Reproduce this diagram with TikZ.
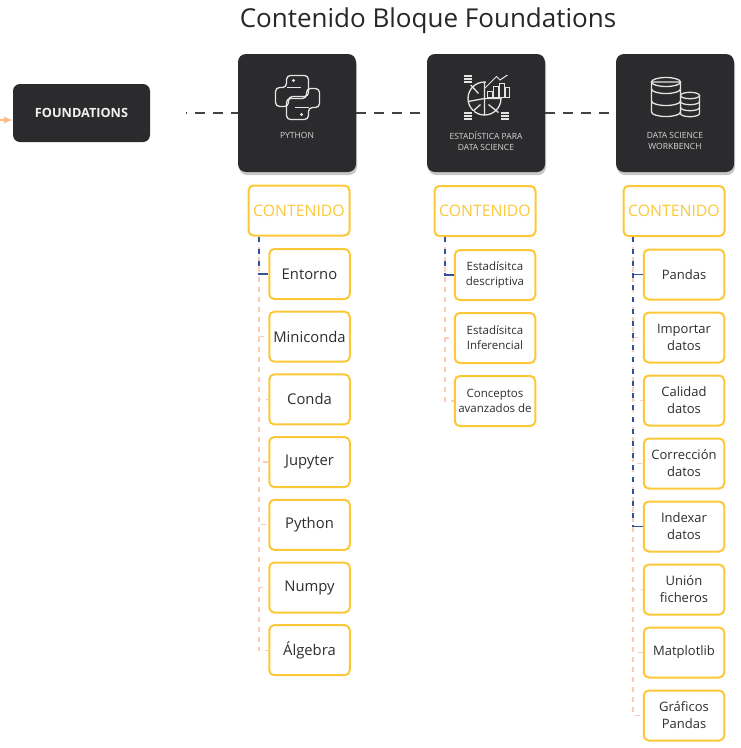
\documentclass[tikz,border=0pt]{standalone}
\usepackage{fontspec}
\setmainfont{Open Sans}
\usetikzlibrary{shadows}

\definecolor{boxdark}{HTML}{2B2B2D}
\definecolor{amber}{HTML}{FCC838}
\definecolor{peach}{HTML}{F9CDB8}
\definecolor{navy}{HTML}{34509C}
\definecolor{inktext}{HTML}{2E2E30}
\definecolor{softwhite}{HTML}{E4E4E4}

\tikzset{
  darkbox/.style={fill=boxdark, rounded corners=8pt, minimum width=118pt, minimum height=118pt,
    drop shadow={shadow xshift=1pt, shadow yshift=-3pt, opacity=.22, fill=black}},
  boxlabel/.style={text=softwhite!85!gray, align=center, font=\fontsize{8.5}{11.5}\selectfont},
  headbox/.style={draw=amber, line width=2pt, fill=white, rounded corners=5pt, minimum width=101pt,
    minimum height=50pt, text=amber, inner sep=0pt, font=\fontsize{15.8}{17}\selectfont},
  itembox/.style={draw=amber, line width=2pt, fill=white, rounded corners=5pt, minimum width=80.5pt,
    minimum height=50pt, text=inktext, align=center, inner sep=0pt, font=\fontsize{13}{17}\selectfont},
  smallitem/.style={itembox, font=\fontsize{11.5}{15}\selectfont},
  largeitem/.style={itembox, font=\fontsize{14.8}{17}\selectfont},
  darkdash/.style={draw=inktext!90!white, line width=1.8pt, dash pattern=on 10pt off 8pt},
  peachline/.style={draw=peach, line width=1.3pt, dash pattern=on 5pt off 5pt},
  navyline/.style={draw=navy, line width=1.3pt, dash pattern=on 5pt off 7pt},
  navystub/.style={draw=navy, line width=1.3pt},
  iconline/.style={draw=softwhite, line width=1.3pt}
}

\begin{document}
\begin{tikzpicture}[x=1pt, y=-1pt, node distance=63pt]
  \useasboundingbox (0,0) rectangle (741,748);

  % Nodes
  \node[text=black!85, font=\fontsize{26}{30}\selectfont] (title) at (428,21) {Contenido Bloque Foundations};
  \node[fill=boxdark, rounded corners=7pt, minimum width=137pt, minimum height=58pt, text=softwhite!50!white,
    font=\fontsize{12.7}{14}\selectfont\bfseries, inner sep=0pt] (foundations) at (81.5,113) {FOUNDATIONS};
  \node[darkbox] (python) at (297,113) {};
  \node[darkbox] (estadistica) at (486,113) {};
  \node[darkbox] (workbench) at (675,113) {};
  \node[boxlabel] (pythonlabel) at (297,135) {PYTHON};
  \node[boxlabel] (estadisticalabel) at (486,141) {ESTADÍSTICA PARA\\DATA SCIENCE};
  \node[boxlabel] (workbenchlabel) at (675,141) {DATA SCIENCE\\WORKBENCH};

  \node[headbox] (contenidoA) at (299,210.5) {CONTENIDO};
  \node[headbox] (contenidoB) at (485,211) {CONTENIDO};
  \node[headbox] (contenidoC) at (674,211) {CONTENIDO};

  % Python column
  \node[largeitem] (entorno) at (309.5,274) {Entorno};
  \node[largeitem, below of=entorno, node distance=62.7pt] (miniconda) {Miniconda};
  \node[largeitem, below of=miniconda, node distance=62.7pt] (conda) {Conda};
  \node[largeitem, below of=conda, node distance=62.7pt] (jupyter) {Jupyter};
  \node[largeitem, below of=jupyter, node distance=62.7pt] (pythonitem) {Python};
  \node[largeitem, below of=pythonitem, node distance=62.7pt] (numpy) {Numpy};
  \node[largeitem, below of=numpy, node distance=62.7pt] (algebra) {Álgebra};

  % Estadistica column
  \node[smallitem] (descriptiva) at (495,275) {Estadísitca\\descriptiva};
  \node[smallitem, below of=descriptiva] (inferencial) {Estadísitca\\Inferencial};
  \node[smallitem, below of=inferencial] (avanzados) {Conceptos\\avanzados de};

  % Workbench column
  \node[itembox] (pandas) at (684,274.5) {Pandas};
  \node[itembox, below of=pandas] (importar) {Importar\\datos};
  \node[itembox, below of=importar] (calidad) {Calidad\\datos};
  \node[itembox, below of=calidad] (correccion) {Corrección\\datos};
  \node[itembox, below of=correccion] (indexar) {Indexar\\datos};
  \node[itembox, below of=indexar] (union) {Unión\\ficheros};
  \node[itembox, below of=union] (matplotlib) {Matplotlib};
  \node[itembox, below of=matplotlib] (graficos) {Gráficos\\Pandas};

  % Python icon
  \begin{scope}[shift={(297.5,97.5)}]
    \foreach \turn in {0,180} {
      \draw[iconline, rotate=\turn, rounded corners=4pt] (-11,-10) -- (-11,-22) -- (11,-22) -- (11,-1)
        -- (-9,-1) -- (-9,9) -- (-22,9) -- (-22,-10) -- cycle;
      \draw[iconline, rotate=\turn] (-11,-10) -- (3,-10);
      \fill[softwhite, rotate=\turn] (-4,-17) circle (1.6);
    }
  \end{scope}

  % Estadistica icon
  \begin{scope}[shift={(484.5,98.5)}]
    \draw[iconline] (0,0) circle (16.5);
    \draw[iconline] (-16.5,3) -- (0,0) -- (16.5,0) (0,-16.5) -- (0,16.5) (-16,-16) -- (-6,-5) (-13,14) -- (-4,6) (14,14) -- (4,6);
    \fill[boxdark] (1,-24) rectangle (25,-1);
    \draw[softwhite, line width=.9pt] (3,-1) rectangle (7.5,-7) (9,-1) rectangle (13.5,-12) (15,-1) rectangle (19.5,-15) (21,-1) rectangle (25,-11);
    \draw[iconline, line width=1pt] (.5,-10.5) -- (12,-22) -- (15.5,-18.5) -- (23,-23.5);
    \foreach \px/\py in {-16.5/-19.5,-16.5/17.5,20.5/17.5} {
      \fill[boxdark] (\px-5.5,\py-5.5) rectangle (\px+5.5,\py+5.5);
      \draw[softwhite, line width=1.2pt] (\px-4,\py-3) -- (\px+4,\py-3) (\px-4,\py) -- (\px+4,\py) (\px-4,\py+3) -- (\px+4,\py+3);
    }
  \end{scope}

  % Workbench icon
  \begin{scope}[shift={(666,77)}]
    \draw[iconline] (24,18.5) ellipse (9.5 and 3.2);
    \draw[iconline] (14.5,18.5) -- (14.5,36.5) arc[start angle=180, end angle=360, x radius=9.5, y radius=-3.2] -- (33.5,18.5);
    \draw[iconline] (14.5,24.5) arc[start angle=180, end angle=360, x radius=9.5, y radius=-3.2]
      (14.5,30.5) arc[start angle=180, end angle=360, x radius=9.5, y radius=-3.2];
    \filldraw[iconline, fill=boxdark] (-14.5,5) -- (-14.5,35) arc[start angle=180, end angle=360, x radius=14.5, y radius=-4.5] -- (14.5,5) -- cycle;
    \draw[iconline] (0,5) ellipse (14.5 and 4.5);
    \draw[iconline] (-14.5,12) arc[start angle=180, end angle=360, x radius=14.5, y radius=-4.5]
      (-14.5,24) arc[start angle=180, end angle=360, x radius=14.5, y radius=-4.5];
  \end{scope}

  % Arrows
  \coordinate (lead) at (0,120);
  \coordinate (gap) at (186,113);
  \coordinate (trunkA) at ([xshift=-40pt]contenidoA.south);
  \coordinate (trunkB) at ([xshift=-40pt]contenidoB.south);
  \coordinate (trunkC) at ([xshift=-41pt]contenidoC.south);
  \draw[-latex, draw=peach!75!orange, fill=peach!75!orange, line width=2pt] (lead) -- (lead -| foundations.west);
  \draw[darkdash, dash phase=9pt] (gap) -- (python);
  \draw[darkdash] (python) -- (estadistica);
  \draw[darkdash] (estadistica) -- (workbench);

  \draw[peachline] (trunkA) |- (entorno);
  \draw[peachline] (trunkA) |- (miniconda);
  \draw[peachline] (trunkA) |- (conda);
  \draw[peachline] (trunkA) |- (jupyter);
  \draw[peachline] (trunkA) |- (pythonitem);
  \draw[peachline] (trunkA) |- (numpy);
  \draw[peachline] (trunkA) |- (algebra);
  \draw[navyline] (trunkA) |- (entorno);
  \draw[navystub] (trunkA |- entorno) -- (entorno);

  \draw[peachline] (trunkB) |- (descriptiva);
  \draw[peachline] (trunkB) |- (inferencial);
  \draw[peachline] (trunkB) |- (avanzados);
  \draw[navyline] (trunkB) |- (descriptiva);
  \draw[navystub] (trunkB |- descriptiva) -- (descriptiva);

  \draw[peachline] (trunkC) |- (pandas);
  \draw[peachline] (trunkC) |- (importar);
  \draw[peachline] (trunkC) |- (calidad);
  \draw[peachline] (trunkC) |- (correccion);
  \draw[peachline] (trunkC) |- (indexar);
  \draw[peachline] (trunkC) |- (union);
  \draw[peachline] (trunkC) |- (matplotlib);
  \draw[peachline] (trunkC) |- (graficos);
  \draw[navyline] (trunkC) |- (pandas);
  \draw[navystub] (trunkC |- pandas) -- (pandas);
  \draw[navyline] (trunkC) |- (indexar);
  \draw[navystub] (trunkC |- indexar) -- (indexar);
\end{tikzpicture}
\end{document}
